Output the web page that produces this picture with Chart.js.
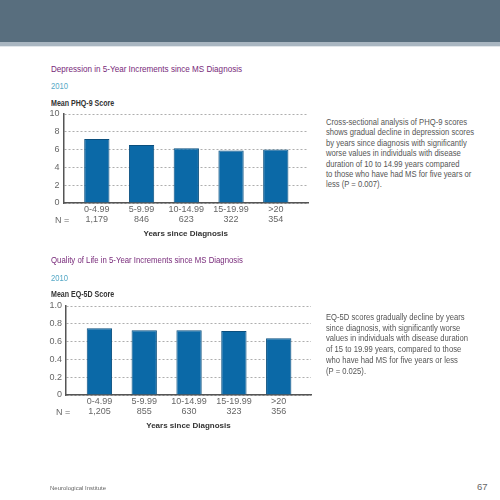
<!DOCTYPE html>
<html>
<head>
<meta charset="utf-8">
<script src="https://cdn.jsdelivr.net/npm/chart.js@4.4.1/dist/chart.umd.min.js"></script>
<style>
  body { margin: 0; width: 500px; height: 500px; position: relative; overflow: hidden; background: #fff;
         font-family: "Liberation Sans", Arial, sans-serif; }
  .band { position: absolute; left: 0; width: 500px; }
  .t { position: absolute; white-space: nowrap; font-size: 9px; line-height: 10px; transform-origin: 0 50%; }
  .title { color: #782a7a; }
  .year { color: #55a8c6; transform: scaleX(0.85); }
  .ylab { color: #333; font-weight: bold; font-size: 8.5px; transform: scaleX(0.83); }
  .body { color: #555; font-size: 8.6px; transform: scaleX(0.89); transform-origin: 0 0; }
  canvas { position: absolute; }
</style>
</head>
<body>
<div class="band" style="top:0;height:42px;background:#586e7e"></div>
<div class="band" style="top:42px;height:4px;background:#a9b6c1"></div>
<div class="band" style="top:46px;height:1px;background:#e2e7eb"></div>

<div class="t title" style="left:51px;top:64px;transform:scaleX(0.9)">Depression in 5-Year Increments since MS Diagnosis</div>
<div class="t year" style="left:51px;top:81px">2010</div>
<div class="t ylab" style="left:51px;top:98px">Mean PHQ-9 Score</div>
<canvas id="phqChart" width="325" height="141" style="left:0;top:104px"></canvas>
<div class="t" style="left:55px;top:215px;color:#666">N =</div>
<div class="t body" style="left:326px;top:117px;line-height:10.4px">Cross-sectional analysis of PHQ-9 scores<br>shows gradual decline in depression scores<br>by years since diagnosis with significantly<br>worse values in individuals with disease<br>duration of 10 to 14.99 years compared<br>to those who have had MS for five years or<br>less (P = 0.007).</div>

<div class="t title" style="left:51px;top:255px;transform:scaleX(0.865)">Quality of Life in 5-Year Increments since MS Diagnosis</div>
<div class="t year" style="left:51px;top:273px">2010</div>
<div class="t ylab" style="left:51px;top:289px">Mean EQ-5D Score</div>
<canvas id="eqChart" width="328" height="141" style="left:0;top:296px"></canvas>
<div class="t" style="left:56px;top:407px;color:#666">N =</div>
<div class="t body" style="left:326px;top:312px;line-height:10.7px">EQ-5D scores gradually decline by years<br>since diagnosis, with significantly worse<br>values in individuals with disease duration<br>of 15 to 19.99 years, compared to those<br>who have had MS for five years or less<br>(P = 0.025).</div>

<div class="t" style="left:50px;top:484px;font-size:6px;line-height:8px;color:#666">Neurological Institute</div>
<div class="t" style="left:477px;top:482px;font-size:9.5px;color:#666">67</div>

<script>
// categorias e valores
const yearCats = ['0-4.99', '5-9.99', '10-14.99', '15-19.99', '>20'];
const phqN = ['1,179', '846', '623', '322', '354'];
const phqScores = [7.18, 6.53, 6.16, 5.89, 6.0];
const phqTicks = ['0', '2', '4', '6', '8', '10'];
const eqN = ['1,205', '855', '630', '323', '356'];
const eqScores = [0.749, 0.727, 0.727, 0.719, 0.637];
const eqTicks = ['0', '0.2', '0.4', '0.6', '0.8', '1.0'];

const fontFam = '"Liberation Sans", Arial, sans-serif';

function makeChart(id, scores, nLabels, yMax, yStep, yLabels, yWidth, padRight) {
    var ctx = document.getElementById(id).getContext('2d');
    return new Chart(ctx, {
        type: 'bar',
        data: {
            datasets: [{
                data: scores.map(function(v, i) { return { x: i, y: v }; }),
                backgroundColor: '#0b69a7',
                borderColor: '#0a4f7e',
                borderWidth: 1,
                barPercentage: 0.565,
                categoryPercentage: 1
            }]
        },
        options: {
            responsive: false,
            animation: false,
            layout: { padding: { top: 10, right: padRight, left: 0, bottom: 0 } },
            plugins: { legend: { display: false }, tooltip: { enabled: false } },
            scales: {
                x: {
                    type: 'linear',
                    min: -0.745,
                    max: 4.72,
                    offset: false,
                    grid: { display: false, offset: false, drawTicks: false },
                    border: { color: '#555', width: 1.5 },
                    afterBuildTicks: function(scale) {
                        scale.ticks = yearCats.map(function(c, i) { return { value: i }; });
                    },
                    afterFit: function(scale) { scale.height = 42; },
                    ticks: {
                        autoSkip: false,
                        maxRotation: 0,
                        padding: 2,
                        color: '#666',
                        font: { family: fontFam, size: 9, lineHeight: 1.11 },
                        callback: function(value, index) {
                            return [yearCats[index], nLabels[index]];
                        }
                    },
                    title: {
                        display: true,
                        text: 'Years since Diagnosis',
                        color: '#333',
                        font: { family: fontFam, size: 8, weight: 'bold' },
                        padding: { top: 0, bottom: 6 }
                    }
                },
                y: {
                    min: 0,
                    max: yMax,
                    afterFit: function(scale) { scale.width = yWidth; },
                    grid: { color: '#9a9a9a', lineWidth: 0.8, drawTicks: false },
                    border: { color: '#555', width: 1.5, dash: [2, 2] },
                    ticks: {
                        stepSize: yStep,
                        padding: 4,
                        color: '#666',
                        font: { family: fontFam, size: 9 },
                        callback: function(value, index) { return yLabels[index]; }
                    }
                }
            }
        }
    });
}

makeChart('phqChart', phqScores, phqN, 10, 2, phqTicks, 63.5, 17);
makeChart('eqChart', eqScores, eqN, 1, 0.2, eqTicks, 66, 17);
</script>
</body>
</html>
